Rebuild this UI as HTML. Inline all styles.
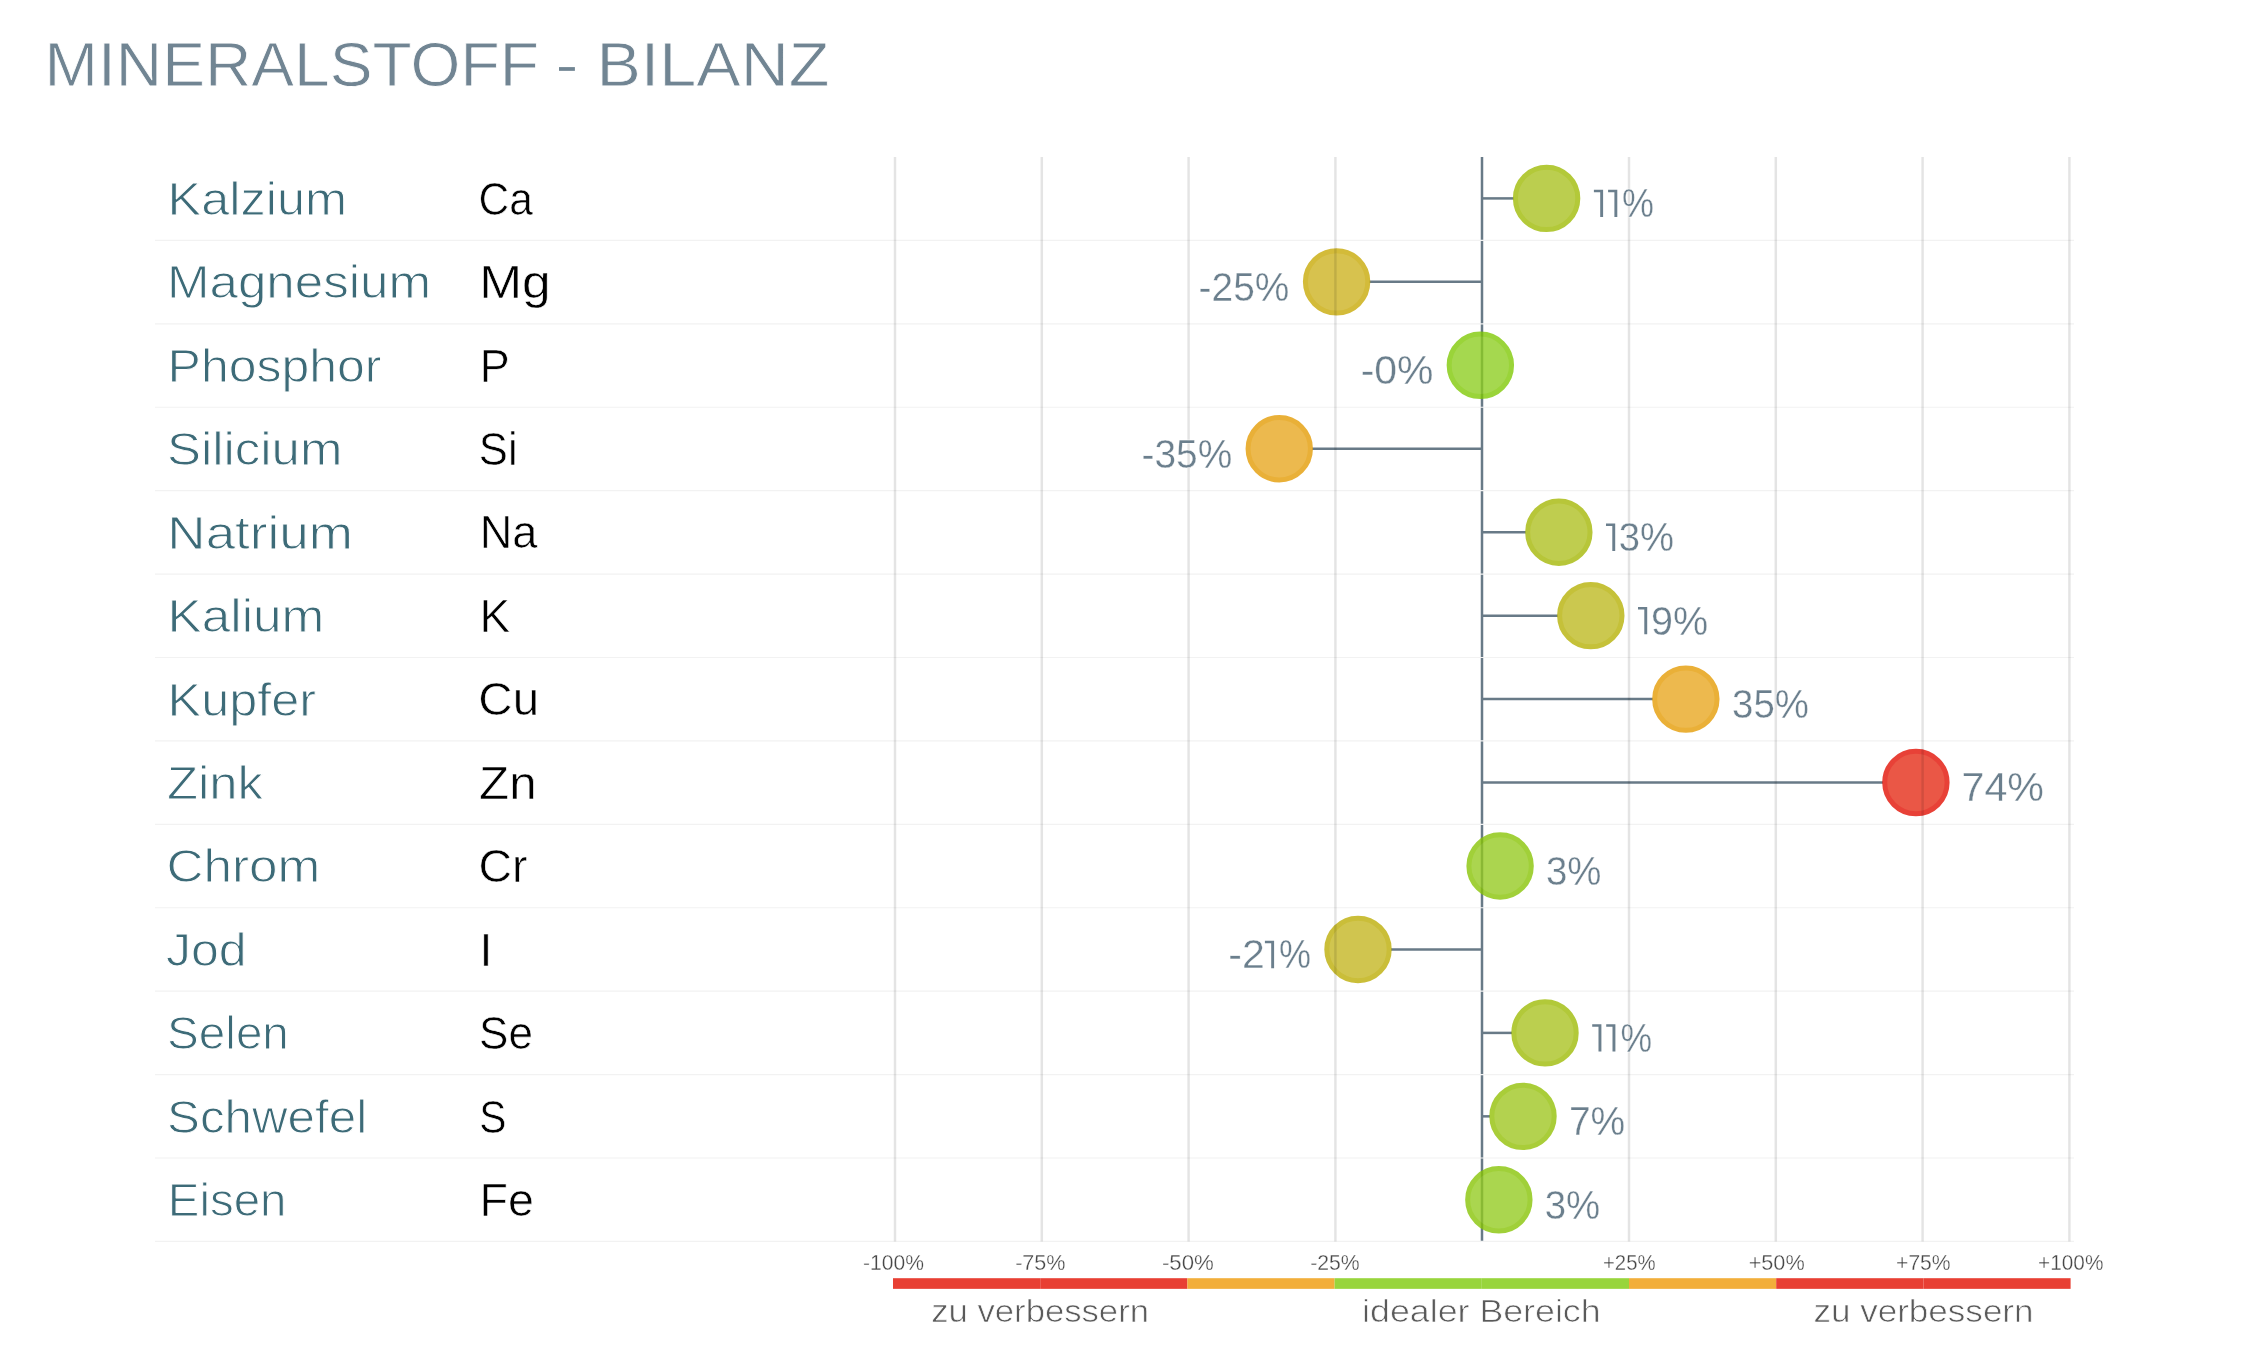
<!DOCTYPE html>
<html lang="de"><head><meta charset="utf-8"><title>Mineralstoff - Bilanz</title>
<style>html,body{margin:0;padding:0;background:#fff;}body{width:2248px;height:1358px;overflow:hidden;}svg{display:block;}text{font-family:"Liberation Sans",sans-serif;stroke:#fff;vector-effect:non-scaling-stroke;stroke-linejoin:round;}svg{will-change:transform;}</style></head><body>
<svg width="2248" height="1358" viewBox="0 0 2248 1358">
<rect width="2248" height="1358" fill="#fff"/>
<g stroke="#687a87" stroke-width="2.5" fill="none">
<line x1="1482.00" y1="156.90" x2="1482.00" y2="1241.44"/>
<line x1="1482.00" y1="198.40" x2="1513.60" y2="198.40"/>
<line x1="1482.00" y1="281.85" x2="1369.60" y2="281.85"/>
<line x1="1482.00" y1="448.75" x2="1312.25" y2="448.75"/>
<line x1="1482.00" y1="532.20" x2="1525.85" y2="532.20"/>
<line x1="1482.00" y1="615.65" x2="1557.80" y2="615.65"/>
<line x1="1482.00" y1="699.10" x2="1652.85" y2="699.10"/>
<line x1="1482.00" y1="782.55" x2="1882.90" y2="782.55"/>
<line x1="1482.00" y1="949.45" x2="1391.00" y2="949.45"/>
<line x1="1482.00" y1="1032.90" x2="1512.00" y2="1032.90"/>
<line x1="1482.00" y1="1116.35" x2="1490.00" y2="1116.35"/>
</g>
<g stroke="#f2f2f2" stroke-width="1.2">
<line x1="155" y1="240.40" x2="2074" y2="240.40"/>
<line x1="155" y1="323.82" x2="2074" y2="323.82"/>
<line x1="155" y1="407.24" x2="2074" y2="407.24"/>
<line x1="155" y1="490.66" x2="2074" y2="490.66"/>
<line x1="155" y1="574.08" x2="2074" y2="574.08"/>
<line x1="155" y1="657.50" x2="2074" y2="657.50"/>
<line x1="155" y1="740.92" x2="2074" y2="740.92"/>
<line x1="155" y1="824.34" x2="2074" y2="824.34"/>
<line x1="155" y1="907.76" x2="2074" y2="907.76"/>
<line x1="155" y1="991.18" x2="2074" y2="991.18"/>
<line x1="155" y1="1074.60" x2="2074" y2="1074.60"/>
<line x1="155" y1="1158.02" x2="2074" y2="1158.02"/>
<line x1="155" y1="1241.44" x2="2074" y2="1241.44"/>
</g>
<circle cx="1546.60" cy="198.40" r="31.2" fill="#a9c11e" stroke="#9eba02" stroke-width="5" opacity="0.78"/>
<circle cx="1336.60" cy="281.85" r="31.2" fill="#cdb11d" stroke="#c7a802" stroke-width="5" opacity="0.78"/>
<circle cx="1480.35" cy="365.30" r="31.2" fill="#8dce1e" stroke="#7ec802" stroke-width="5" opacity="0.78"/>
<circle cx="1279.25" cy="448.75" r="31.2" fill="#e7a61d" stroke="#e49b01" stroke-width="5" opacity="0.78"/>
<circle cx="1558.85" cy="532.20" r="31.2" fill="#aebf1e" stroke="#a4b702" stroke-width="5" opacity="0.78"/>
<circle cx="1590.80" cy="615.65" r="31.2" fill="#bdb91e" stroke="#b5b002" stroke-width="5" opacity="0.78"/>
<circle cx="1685.85" cy="699.10" r="31.2" fill="#e8a61d" stroke="#e59b01" stroke-width="5" opacity="0.78"/>
<circle cx="1915.90" cy="782.55" r="31.2" fill="#e52813" stroke="#e20d00" stroke-width="5" opacity="0.78"/>
<circle cx="1500.10" cy="866.00" r="31.2" fill="#94ca1e" stroke="#87c402" stroke-width="5" opacity="0.78"/>
<circle cx="1358.00" cy="949.45" r="31.2" fill="#c4b61e" stroke="#bcac02" stroke-width="5" opacity="0.78"/>
<circle cx="1545.00" cy="1032.90" r="31.2" fill="#a8c21e" stroke="#9dba02" stroke-width="5" opacity="0.78"/>
<circle cx="1523.00" cy="1116.35" r="31.2" fill="#9ec61e" stroke="#92bf02" stroke-width="5" opacity="0.78"/>
<circle cx="1498.85" cy="1199.80" r="31.2" fill="#93cb1e" stroke="#86c402" stroke-width="5" opacity="0.78"/>
<g stroke="#000" stroke-opacity="0.105" stroke-width="2.5">
<line x1="895.00" y1="156.90" x2="895.00" y2="1241.44"/>
<line x1="1041.80" y1="156.90" x2="1041.80" y2="1241.44"/>
<line x1="1188.60" y1="156.90" x2="1188.60" y2="1241.44"/>
<line x1="1335.40" y1="156.90" x2="1335.40" y2="1241.44"/>
<line x1="1629.00" y1="156.90" x2="1629.00" y2="1241.44"/>
<line x1="1775.80" y1="156.90" x2="1775.80" y2="1241.44"/>
<line x1="1922.60" y1="156.90" x2="1922.60" y2="1241.44"/>
<line x1="2069.40" y1="156.90" x2="2069.40" y2="1241.44"/>
</g>
<rect x="893.00" y="1278.20" width="147.20" height="10.65" fill="#e83f33"/>
<rect x="1040.20" y="1278.20" width="147.20" height="10.65" fill="#e83f33"/>
<rect x="1187.40" y="1278.20" width="147.20" height="10.65" fill="#f2ae3a"/>
<rect x="1334.60" y="1278.20" width="147.20" height="10.65" fill="#98d53c"/>
<rect x="1481.80" y="1278.20" width="147.20" height="10.65" fill="#98d53c"/>
<rect x="1629.00" y="1278.20" width="147.20" height="10.65" fill="#f2ae3a"/>
<rect x="1776.20" y="1278.20" width="147.20" height="10.65" fill="#e83f33"/>
<rect x="1923.40" y="1278.20" width="147.20" height="10.65" fill="#e83f33"/>
<path d="M1593.90 189.80h9.20v27.30h-2.90v-24.90h-6.30z" fill="#6b7f8d"/>
<path d="M1608.10 189.80h9.20v27.30h-2.90v-24.90h-6.30z" fill="#6b7f8d"/>
<path d="M1606.00 523.60h9.20v27.30h-2.90v-24.90h-6.30z" fill="#6b7f8d"/>
<path d="M1638.00 607.05h9.20v27.30h-2.90v-24.90h-6.30z" fill="#6b7f8d"/>
<path d="M1264.90 940.85h9.20v27.30h-2.90v-24.90h-6.30z" fill="#6b7f8d"/>
<path d="M1592.20 1024.30h9.20v27.30h-2.90v-24.90h-6.30z" fill="#6b7f8d"/>
<path d="M1606.20 1024.30h9.20v27.30h-2.90v-24.90h-6.30z" fill="#6b7f8d"/>
<rect x="559.0" y="67.1" width="15.9" height="3.75" fill="#718593"/>
<text transform="translate(44.59,85.80) scale(1.0173,1)" font-size="63.08" fill="#718593" stroke-width="0.80">MINERALSTOFF</text>
<text transform="translate(596.40,85.80) scale(1.0557,1)" font-size="63.08" fill="#718593" stroke-width="0.80">BILANZ</text>
<text transform="translate(167.56,214.80) scale(1.0848,1)" font-size="46.51" fill="#3d6b78" stroke-width="1.00">Kalzium</text>
<text transform="translate(478.61,214.60) scale(0.9252,1)" font-size="45.93" fill="#000000" stroke-width="0.60">Ca</text>
<text transform="translate(1621.90,217.28) scale(0.9030,1)" font-size="39.79" fill="#6b7f8d" stroke-width="0.35">%</text>
<text transform="translate(166.91,298.25) scale(1.0991,1)" font-size="46.51" fill="#3d6b78" stroke-width="1.00">Magnesium</text>
<text transform="translate(479.17,298.05) scale(1.1225,1)" font-size="45.93" fill="#000000" stroke-width="0.60">Mg</text>
<text transform="translate(1198.61,300.73) scale(0.9779,1)" font-size="39.79" fill="#6b7f8d" stroke-width="0.35">-25%</text>
<text transform="translate(167.60,381.70) scale(1.0741,1)" font-size="46.51" fill="#3d6b78" stroke-width="1.00">Phosphor</text>
<text transform="translate(479.69,381.50) scale(0.9794,1)" font-size="45.93" fill="#000000" stroke-width="0.60">P</text>
<text transform="translate(1360.64,384.18) scale(1.0297,1)" font-size="39.79" fill="#6b7f8d" stroke-width="0.35">-0%</text>
<text transform="translate(166.91,465.15) scale(1.0955,1)" font-size="46.51" fill="#3d6b78" stroke-width="1.00">Silicium</text>
<text transform="translate(478.83,464.95) scale(0.9512,1)" font-size="45.93" fill="#000000" stroke-width="0.60">Si</text>
<text transform="translate(1141.51,467.62) scale(0.9779,1)" font-size="39.79" fill="#6b7f8d" stroke-width="0.35">-35%</text>
<text transform="translate(167.36,548.60) scale(1.1399,1)" font-size="46.51" fill="#3d6b78" stroke-width="1.00">Natrium</text>
<text transform="translate(479.66,548.40) scale(0.9853,1)" font-size="45.93" fill="#000000" stroke-width="0.60">Na</text>
<text transform="translate(1618.78,551.08) scale(0.9624,1)" font-size="39.79" fill="#6b7f8d" stroke-width="0.35">3%</text>
<text transform="translate(167.49,632.05) scale(1.1034,1)" font-size="46.51" fill="#3d6b78" stroke-width="1.00">Kalium</text>
<text transform="translate(479.61,631.85) scale(1.0018,1)" font-size="45.93" fill="#000000" stroke-width="0.60">K</text>
<text transform="translate(1650.97,634.52) scale(0.9945,1)" font-size="39.79" fill="#6b7f8d" stroke-width="0.35">9%</text>
<text transform="translate(167.57,715.50) scale(1.0828,1)" font-size="46.51" fill="#3d6b78" stroke-width="1.00">Kupfer</text>
<text transform="translate(478.37,715.30) scale(1.0337,1)" font-size="45.93" fill="#000000" stroke-width="0.60">Cu</text>
<text transform="translate(1732.02,717.98) scale(0.9657,1)" font-size="39.79" fill="#6b7f8d" stroke-width="0.35">35%</text>
<text transform="translate(166.91,798.95) scale(1.0925,1)" font-size="46.51" fill="#3d6b78" stroke-width="1.00">Zink</text>
<text transform="translate(479.06,798.75) scale(1.0729,1)" font-size="45.93" fill="#000000" stroke-width="0.60">Zn</text>
<text transform="translate(1961.49,801.42) scale(1.0362,1)" font-size="39.79" fill="#6b7f8d" stroke-width="0.35">74%</text>
<text transform="translate(166.50,882.40) scale(1.1025,1)" font-size="46.51" fill="#3d6b78" stroke-width="1.00">Chrom</text>
<text transform="translate(478.42,882.20) scale(1.0111,1)" font-size="45.93" fill="#000000" stroke-width="0.60">Cr</text>
<text transform="translate(1545.93,884.88) scale(0.9651,1)" font-size="39.79" fill="#6b7f8d" stroke-width="0.35">3%</text>
<text transform="translate(165.92,965.85) scale(1.0760,1)" font-size="46.51" fill="#3d6b78" stroke-width="1.00">Jod</text>
<text transform="translate(479.46,965.65) scale(1.0152,1)" font-size="45.93" fill="#000000" stroke-width="0.60">I</text>
<text transform="translate(1228.34,968.33) scale(1.0317,1)" font-size="39.79" fill="#6b7f8d" stroke-width="0.35">-2</text>
<text transform="translate(1278.90,968.33) scale(0.9060,1)" font-size="39.79" fill="#6b7f8d" stroke-width="0.35">%</text>
<text transform="translate(167.11,1049.30) scale(1.0236,1)" font-size="46.51" fill="#3d6b78" stroke-width="1.00">Selen</text>
<text transform="translate(479.12,1049.10) scale(0.9587,1)" font-size="45.93" fill="#000000" stroke-width="0.60">Se</text>
<text transform="translate(1620.51,1051.78) scale(0.8939,1)" font-size="39.79" fill="#6b7f8d" stroke-width="0.35">%</text>
<text transform="translate(167.06,1132.75) scale(1.0602,1)" font-size="46.51" fill="#3d6b78" stroke-width="1.00">Schwefel</text>
<text transform="translate(479.23,1132.55) scale(0.8874,1)" font-size="45.93" fill="#000000" stroke-width="0.60">S</text>
<text transform="translate(1568.90,1135.23) scale(0.9798,1)" font-size="39.79" fill="#6b7f8d" stroke-width="0.35">7%</text>
<text transform="translate(167.79,1216.20) scale(1.0200,1)" font-size="46.51" fill="#3d6b78" stroke-width="1.00">Eisen</text>
<text transform="translate(479.46,1216.00) scale(1.0156,1)" font-size="45.93" fill="#000000" stroke-width="0.60">Fe</text>
<text transform="translate(1544.63,1218.68) scale(0.9651,1)" font-size="39.79" fill="#6b7f8d" stroke-width="0.35">3%</text>
<text transform="translate(863.06,1270.15) scale(0.9837,1)" font-size="21.43" fill="#474747" stroke-width="0.30">-100%</text>
<text transform="translate(1015.14,1270.15) scale(1.0069,1)" font-size="21.43" fill="#474747" stroke-width="0.30">-75%</text>
<text transform="translate(1161.92,1270.15) scale(1.0379,1)" font-size="21.43" fill="#474747" stroke-width="0.30">-50%</text>
<text transform="translate(1310.16,1270.15) scale(0.9903,1)" font-size="21.43" fill="#474747" stroke-width="0.30">-25%</text>
<text transform="translate(1603.00,1270.15) scale(0.9488,1)" font-size="21.43" fill="#474747" stroke-width="0.30">+25%</text>
<text transform="translate(1748.64,1270.15) scale(1.0122,1)" font-size="21.43" fill="#474747" stroke-width="0.30">+50%</text>
<text transform="translate(1896.07,1270.15) scale(0.9842,1)" font-size="21.43" fill="#474747" stroke-width="0.30">+75%</text>
<text transform="translate(2038.08,1270.15) scale(0.9701,1)" font-size="21.43" fill="#474747" stroke-width="0.30">+100%</text>
<text transform="translate(931.27,1322.15) scale(1.0872,1)" font-size="31.90" fill="#5a5a5a" stroke-width="0.70">zu verbessern</text>
<text transform="translate(1362.11,1322.15) scale(1.1215,1)" font-size="31.90" fill="#5a5a5a" stroke-width="0.70">idealer Bereich</text>
<text transform="translate(1813.45,1322.15) scale(1.0989,1)" font-size="31.90" fill="#5a5a5a" stroke-width="0.70">zu verbessern</text>
</svg></body></html>
